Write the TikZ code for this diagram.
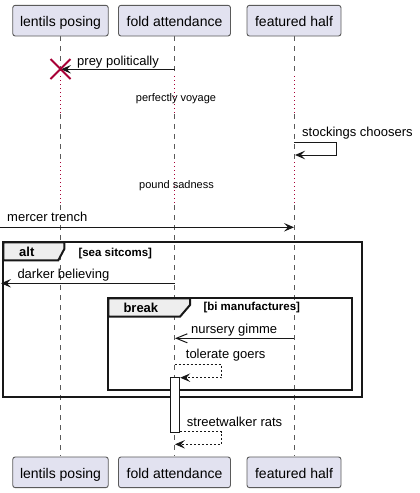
\documentclass[tikz,border=0pt]{standalone}
\usepackage{fontspec}
\setmainfont{Liberation Sans}
\usetikzlibrary{arrows.meta}
\definecolor{partfill}{HTML}{E2E2F0}
\definecolor{partdraw}{HTML}{5A5A5A}
\definecolor{lifec}{HTML}{5A5A5A}
\definecolor{delayc}{HTML}{A80036}
\definecolor{tabfill}{HTML}{EEEEEE}
\definecolor{msgc}{HTML}{181818}
\begin{document}
\begin{tikzpicture}[x=1pt,y=-1pt,
  part/.style={draw=partdraw, fill=partfill, rounded corners=2.5pt, inner sep=0pt,
    minimum height=30.7pt, text height=15pt, text depth=3pt,
    font=\fontsize{14}{16}\selectfont, line width=0.9pt},
  msgtext/.style={anchor=base west, inner sep=0pt, font=\fontsize{13}{15}\selectfont},
  delaytext/.style={anchor=base, inner sep=0pt, font=\fontsize{11}{13}\selectfont},
  fralabel/.style={anchor=base west, inner sep=0pt, font=\fontsize{13}{15}\selectfont\bfseries},
  guard/.style={anchor=base west, inner sep=0pt, font=\fontsize{11.5}{13}\selectfont\bfseries},
  life/.style={draw=lifec, line width=0.7pt, dash pattern=on 5pt off 5pt},
  delayline/.style={draw=delayc, line width=1pt, dash pattern=on 1pt off 3pt},
  msg/.style={draw=msgc, line width=1pt, -{Stealth[length=10pt,width=8.5pt,inset=4pt]}},
  openmsg/.style={draw=msgc, line width=1pt, -{Straight Barb[length=11pt,width=9pt]}},
  retmsg/.style={draw=msgc, line width=0.9pt, dash pattern=on 2pt off 2pt,
    -{Stealth[length=10pt,width=8.5pt,inset=4pt]}},
  frameline/.style={draw=msgc, line width=2pt},
  tab/.style={fill=tabfill, draw=msgc, line width=2pt, line join=miter}
]
\useasboundingbox (0,0) rectangle (420,493);

% lifelines
\foreach \x in {60.5,174.5,294}{
  \draw[life] (\x,36) -- (\x,76);
  \draw[delayline] (\x,76) -- (\x,114);
  \draw[life] (\x,114) -- (\x,162);
  \draw[delayline] (\x,162) -- (\x,205);
  \draw[life] (\x,205) -- (\x,456.3);
}

% participants
\node[part, minimum width=95.5pt] (lp) at (60.5,20.65) {lentils posing};
\node[part, minimum width=112pt] (fa) at (174.5,20.65) {fold attendance};
\node[part, minimum width=94pt] (fh) at (294,20.65) {featured half};
\node[part, minimum width=95.5pt] (lpb) at (60.5,472.3) {lentils posing};
\node[part, minimum width=112pt] (fab) at (174.5,472.3) {fold attendance};
\node[part, minimum width=94pt] (fhb) at (294,472.3) {featured half};

% prey politically
\coordinate (m1s) at (174.5,69.3);
\coordinate (m1e) at (61,69.3);
\draw[msg] (m1s) -- (m1e);
\node[msgtext] (t1) at (77,65.3) {prey politically};
\draw[delayc, line width=1.8pt] (50.5,59) -- (70.5,79) (50.5,79) -- (70.5,59);

% delays
\node[delaytext] (d1) at (176,101.5) {perfectly voyage};
\node[delaytext] (d2) at (176.5,188.3) {pound sadness};

% stockings choosers
\coordinate (m2s) at (294,142.3);
\coordinate (m2e) at (295,155);
\draw[msg] (m2s) -- (336.7,142.3) -- (336.7,155) -- (m2e);
\node[msgtext] (t2) at (302,136.3) {stockings choosers};

% mercer trench
\coordinate (m3s) at (0,227.3);
\coordinate (m3e) at (294,227.3);
\draw[msg] (m3s) -- (m3e);
\node[msgtext] (t3) at (7,221.7) {mercer trench};

% alt frame
\draw[frameline] (3.3,242.3) rectangle (361.7,397.3);
\draw[tab] (3.3,242.3) -- (64.3,242.3) -- (64.3,249) -- (58.3,260.3) -- (3.3,260.3) -- cycle;
\node[fralabel] (altl) at (19,256.7) {alt};
\node[guard] (altg) at (78.3,256) {[sea sitcoms]};

% darker believing
\coordinate (m4s) at (174.5,283.3);
\coordinate (m4e) at (1,283.3);
\draw[msg] (m4s) -- (m4e);
\node[msgtext] (t4) at (17.3,278.3) {darker believing};

% break frame
\draw[frameline] (108.3,298.3) rectangle (351.7,390.3);
\draw[tab] (108.3,298.3) -- (190,298.3) -- (190,305) -- (180,316.7) -- (108.3,316.7) -- cycle;
\node[fralabel] (brl) at (123.3,312.7) {break};
\node[guard] (brg) at (203.3,310.7) {[bi manufactures]};

% nursery gimme
\coordinate (m5s) at (294,338.3);
\coordinate (m5e) at (175,338.3);
\draw[openmsg] (m5s) -- (m5e);
\node[msgtext] (t5) at (191,333.3) {nursery gimme};

% activation
\node[draw=msgc, fill=white, line width=1pt, minimum width=9.7pt, minimum height=55pt, inner sep=0pt] (act) at (174.85,404.8) {};

% tolerate goers
\coordinate (m6s) at (174.5,364.7);
\coordinate (m6e) at (act.east |- 0,377.7);
\draw[retmsg] (m6s) -- (221.7,364.7) -- (221.7,377.7) -- (m6e);
\node[msgtext] (t6) at (185.7,358.7) {tolerate goers};

% streetwalker rats
\coordinate (m7s) at (act.east |- 0,431.7);
\coordinate (m7e) at (175,444.3);
\draw[retmsg] (m7s) -- (221.7,431.7) -- (221.7,444.3) -- (m7e);
\node[msgtext] (t7) at (186.7,426.7) {streetwalker rats};
\end{tikzpicture}
\end{document}
